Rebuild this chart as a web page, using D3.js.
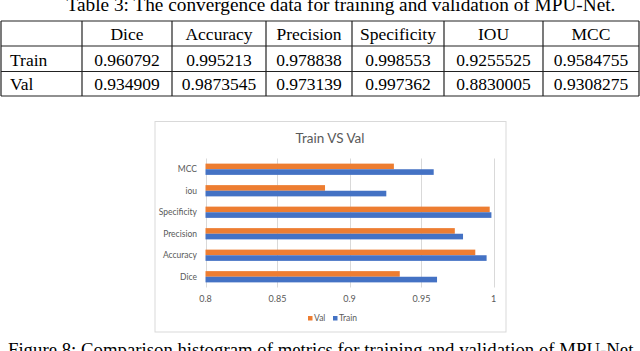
<!DOCTYPE html>
<html>
<head>
<meta charset="utf-8">
<script src="https://cdn.jsdelivr.net/npm/d3@7"></script>
<style>
  html, body { margin: 0; padding: 0; background: #fff; }
  svg { display: block; }
</style>
</head>
<body>
<div id="fig"></div>
<script>
// Table data
const headers = ["Dice", "Accuracy", "Precision", "Specificity", "IOU", "MCC"];
const rowNames = ["Train", "Val"];
const trainVals = [0.960792, 0.995213, 0.978838, 0.998553, 0.9255525, 0.9584755];
const valVals = [0.934909, 0.9873545, 0.973139, 0.997362, 0.8830005, 0.9308275];

// Chart data (bottom to top on the chart)
const chartCats = ["Dice", "Accuracy", "Precision", "Specificity", "iou", "MCC"];
const seriesNames = ["Val", "Train"];
const xTicks = [0.8, 0.85, 0.9, 0.95, 1];

const W = 640, H = 351;
const svg = d3.select("#fig").append("svg")
    .attr("width", W)
    .attr("height", H);

const serif = "'Liberation Serif', 'Times New Roman', serif";
const sans = "Lato, 'Open Sans', sans-serif";

// Top caption (clipped at the top edge, as in the source page)
svg.append("text")
    .attr("x", 341)
    .attr("y", 11)
    .attr("text-anchor", "middle")
    .style("font-family", serif)
    .style("font-size", "19.3px")
    .text("Table 3: The convergence data for training and validation of MPU-Net.");

// ---- Table ----
const colEdges = [1, 82, 172, 266, 352, 444, 543, 639];
const rowEdges = [21, 46, 71.5, 96];
const table = svg.append("g").attr("class", "table");

table.selectAll(".hline")
    .data(rowEdges)
    .enter()
    .append("line")
    .attr("x1", colEdges[0])
    .attr("x2", colEdges[colEdges.length - 1])
    .attr("y1", d => d)
    .attr("y2", d => d)
    .style("stroke", "#222")
    .style("stroke-width", 1.2);

table.selectAll(".vline")
    .data(colEdges)
    .enter()
    .append("line")
    .attr("x1", d => d)
    .attr("x2", d => d)
    .attr("y1", rowEdges[0])
    .attr("y2", rowEdges[rowEdges.length - 1])
    .style("stroke", "#222")
    .style("stroke-width", 1.2);

const colCenter = i => (colEdges[i + 1] + colEdges[i + 2]) / 2;

table.selectAll(".head")
    .data(headers)
    .enter()
    .append("text")
    .attr("x", (d, i) => colCenter(i))
    .attr("y", rowEdges[1] - 6)
    .attr("text-anchor", "middle")
    .style("font-family", serif)
    .style("font-size", "17.5px")
    .text(d => d);

[trainVals, valVals].forEach((vals, r) => {
    const yb = rowEdges[r + 2] - 6;
    table.append("text")
        .attr("x", 10)
        .attr("y", yb)
        .style("font-family", serif)
        .style("font-size", "17.5px")
        .text(rowNames[r]);
    table.selectAll(".cell" + r)
        .data(vals)
        .enter()
        .append("text")
        .attr("x", (d, i) => colCenter(i))
        .attr("y", yb)
        .attr("text-anchor", "middle")
        .style("font-family", serif)
        .style("font-size", "17.5px")
        .text(d => String(d));
});

// ---- Chart ----
const box = { x: 155, y: 121.5, w: 351, h: 210.5 };
svg.append("rect")
    .attr("x", box.x)
    .attr("y", box.y)
    .attr("width", box.w)
    .attr("height", box.h)
    .style("fill", "#fff")
    .style("stroke", "#d9d9d9")
    .style("stroke-width", 1);

svg.append("text")
    .attr("x", 330)
    .attr("y", 143)
    .attr("text-anchor", "middle")
    .style("font-family", sans)
    .style("font-size", "13.5px")
    .style("fill", "#595959")
    .text("Train VS Val");

const x = d3.scaleLinear().domain([0.8, 1]).range([205.5, 493.5]);
const y = d3.scaleBand().domain(chartCats).range([287.5, 158.5]);
const barH = y.bandwidth() / 3.82;

const colors = { Val: "#ED7D31", Train: "#4472C4" };

// gridlines
svg.append("g")
    .selectAll("line")
    .data(xTicks)
    .enter()
    .append("line")
    .attr("x1", d => Math.round(x(d)) + 0.5)
    .attr("x2", d => Math.round(x(d)) + 0.5)
    .attr("y1", 158.5)
    .attr("y2", 287.5)
    .style("stroke", "#d9d9d9")
    .style("stroke-width", 1);

// tick labels
svg.append("g")
    .selectAll("text")
    .data(xTicks)
    .enter()
    .append("text")
    .attr("x", d => x(d))
    .attr("y", 302)
    .attr("text-anchor", "middle")
    .style("font-family", sans)
    .style("font-size", "9px")
    .style("fill", "#595959")
    .text(d => d3.format("")(d));

// category labels
svg.append("g")
    .selectAll("text")
    .data(chartCats)
    .enter()
    .append("text")
    .attr("x", 197)
    .attr("y", d => y(d) + y.bandwidth() / 2)
    .attr("dy", "0.35em")
    .attr("text-anchor", "end")
    .style("font-family", sans)
    .style("font-size", "8.5px")
    .style("fill", "#595959")
    .text(d => d);

// bars
const bars = svg.append("g");
chartCats.forEach((c, i) => {
    const mid = y(c) + y.bandwidth() / 2;
    bars.append("rect")
        .attr("x", x(0.8))
        .attr("y", mid - barH)
        .attr("width", x(valVals[i]) - x(0.8))
        .attr("height", barH)
        .style("fill", colors.Val);
    bars.append("rect")
        .attr("x", x(0.8))
        .attr("y", mid)
        .attr("width", x(trainVals[i]) - x(0.8))
        .attr("height", barH)
        .style("fill", colors.Train);
});

// legend
const legendX = [308, 333];
const legend = svg.append("g")
    .selectAll("g")
    .data(seriesNames)
    .enter()
    .append("g")
    .attr("transform", (d, i) => `translate(${legendX[i]},316)`);
legend.append("rect")
    .attr("width", 4.5)
    .attr("height", 4.5)
    .style("fill", d => colors[d]);
legend.append("text")
    .attr("x", 6)
    .attr("y", 5)
    .style("font-family", sans)
    .style("font-size", "8.5px")
    .style("fill", "#595959")
    .text(d => d);

// bottom caption (clipped at the bottom edge, as in the source page)
svg.append("text")
    .attr("x", 323)
    .attr("y", 356)
    .attr("text-anchor", "middle")
    .style("font-family", serif)
    .style("font-size", "18.8px")
    .text("Figure 8: Comparison histogram of metrics for training and validation of MPU-Net.");
</script>
</body>
</html>
